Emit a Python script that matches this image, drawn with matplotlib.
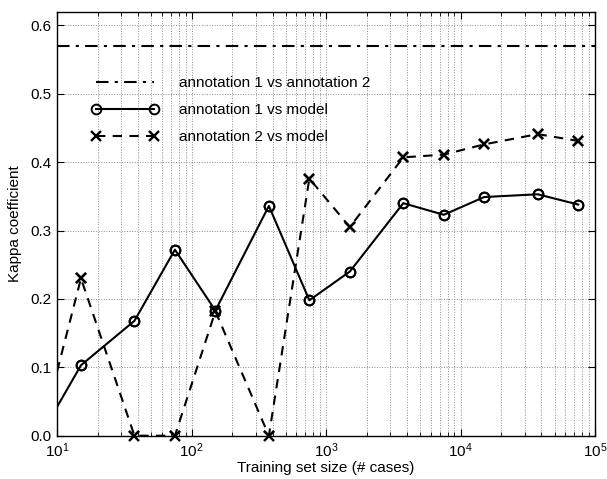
import matplotlib
matplotlib.use("Agg")
import matplotlib.pyplot as plt
import numpy as np
from matplotlib.ticker import LogLocator, NullFormatter, MultipleLocator

plt.rcParams["font.family"] = ["Liberation Sans", "DejaVu Sans"]
plt.rcParams["mathtext.fontset"] = "custom"
plt.rcParams["mathtext.rm"] = "Liberation Sans"
plt.rcParams["mathtext.default"] = "regular"

# training set sizes (# cases); first point lies left of the axis
train_sizes = [7.5, 15, 37.5, 75, 150, 375, 750, 1500, 3750, 7500, 15000, 37500, 75000]
kappa_a1_model = [0.0, 0.103, 0.168, 0.272, 0.183, 0.336, 0.198, 0.240, 0.340, 0.323, 0.349, 0.353, 0.338]
kappa_a2_model = [0.0, 0.230, 0.0, 0.0, 0.182, 0.0, 0.376, 0.305, 0.407, 0.411, 0.426, 0.441, 0.431]
kappa_a1_a2 = 0.57

labels = ["annotation 1 vs annotation 2", "annotation 1 vs model", "annotation 2 vs model"]
xlim = (10, 1e5)
ylim = (0, 0.62)

fig = plt.figure(figsize=(6.07, 4.79), dpi=100)
ax = fig.add_axes([0.0944, 0.0904, 0.8858, 0.8852])
ax.set_xscale("log")

lw = 1.5
ms = 7
ax.axhline(kappa_a1_a2, color="black", lw=lw, dashes=(6, 3, 1.5, 3), label=labels[0])
ax.plot(train_sizes, kappa_a1_model, color="black", lw=lw, marker="o", ms=ms,
        mfc="none", mew=1.4, label=labels[1])
ax.plot(train_sizes, kappa_a2_model, color="black", lw=lw, dashes=(4.5, 3.5),
        marker="x", ms=ms, mew=1.7, label=labels[2])

# redraw markers that sit on the axis line without clipping
xs = np.array(train_sizes)
inside = xs >= xlim[0]
ax.plot(xs[inside], np.array(kappa_a1_model)[inside], ls="none", marker="o", ms=ms,
        mfc="none", mec="black", mew=1.4, clip_on=False)
ax.plot(xs[inside], np.array(kappa_a2_model)[inside], ls="none", marker="x", ms=ms,
        mec="black", mew=1.7, clip_on=False)

ax.set_xlim(*xlim)
ax.set_ylim(*ylim)
ax.yaxis.set_major_locator(MultipleLocator(0.1))
ax.xaxis.set_major_locator(LogLocator(base=10, numticks=10))
ax.xaxis.set_minor_locator(LogLocator(base=10, subs=np.arange(2, 10), numticks=20))
ax.xaxis.set_minor_formatter(NullFormatter())

ax.grid(True, which="major", ls=":", color="0.55", lw=0.7)
ax.grid(True, which="minor", axis="x", ls=":", color="0.55", lw=0.7)
ax.tick_params(which="both", direction="in", top=True, right=True, labelsize=11, pad=4)
ax.tick_params(which="major", length=5, width=0.8)
ax.tick_params(which="minor", length=3, width=0.6)
for sp in ax.spines.values():
    sp.set_linewidth(1.0)

ax.set_xlabel("Training set size (# cases)", fontsize=11, labelpad=1)
ax.set_ylabel("Kappa coefficient", fontsize=11, labelpad=6)

ax.legend(loc="upper left", bbox_to_anchor=(0.064, 0.848), frameon=False, fontsize=11,
          handlelength=4.4, handletextpad=1.3, labelspacing=0.85, borderpad=0,
          borderaxespad=0, numpoints=2)

fig.savefig("out.png", dpi=100)
